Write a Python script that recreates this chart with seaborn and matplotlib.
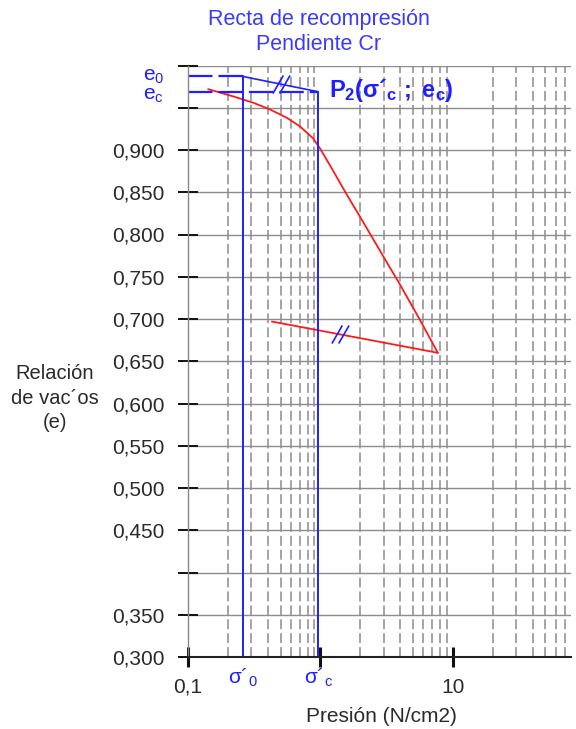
import numpy as np
import pandas as pd
import matplotlib
matplotlib.use("Agg")
import matplotlib.pyplot as plt
from matplotlib.path import Path
import seaborn as sns

# ---- data ----
p_load = [0.142, 0.219, 0.31, 0.416, 0.559, 0.70, 0.878, 0.991, 1.18, 1.53, 1.99, 2.45, 2.96, 3.98, 5.64, 7.7]
e_load = [0.972, 0.9635, 0.956, 0.948, 0.938, 0.928, 0.914, 0.902, 0.882, 0.851, 0.821, 0.797, 0.775, 0.741, 0.699, 0.660]
p_unload = [7.7, 0.43]
e_unload = [0.660, 0.697]

sigma0 = 0.26
sigmac = 0.96
e0 = 0.987
ec = 0.969
unload_mark_p = 1.4

y_ticks = [0.30, 0.35, 0.40, 0.45, 0.50, 0.55, 0.60, 0.65, 0.70, 0.75, 0.80, 0.85, 0.90, 0.95, 1.00]
y_labels = ["0,300", "0,350", "", "0,450", "0,500", "0,550", "0,600", "0,650", "0,700",
            "0,750", "0,800", "0,850", "0,900", "", ""]
x_ticks = [0.1, 1, 10]
x_labels = ["0,1", "", "10"]

title1 = "Recta de recompresión"
title2 = "Pendiente Cr"
ylabel = "Relación\nde vac´os\n(e)"
xlabel = "Presión (N/cm2)"

# ---- style ----
sns.set_theme(style="white")
plt.rcParams["font.family"] = ["Liberation Sans", "DejaVu Sans"]
plt.rcParams["mathtext.fontset"] = "custom"
plt.rcParams["mathtext.rm"] = "Liberation Sans"
plt.rcParams["mathtext.it"] = "Liberation Sans:italic"
plt.rcParams["mathtext.bf"] = "Liberation Sans:bold"
plt.rcParams["mathtext.sf"] = "Liberation Sans"

BLUE = "#1f1fff"
TBLUE = "#3a3aff"
RED = "#ff1a1a"
GRID = "#8c8c8c"
TXT = "#2a2a2a"
FS = 15

fig = plt.figure(figsize=(5.76, 7.29), dpi=100)
ax = fig.add_axes([188 / 576, 72 / 729, (571 - 188) / 576, (657 - 65.5) / 729])

ax.set_xscale("log")
ax.set_xlim(0.1, 78)
ax.set_ylim(0.30, 1.00)

# grid
ax.set_yticks(y_ticks)
ax.set_yticklabels(y_labels)
ax.set_xticks(x_ticks)
ax.set_xticklabels(x_labels)
ax.grid(which="major", axis="y", color=GRID, lw=1.0, ls="-")
ax.grid(which="minor", axis="x", color=GRID, lw=1.1, ls=(0, (6.5, 2.6)))
ax.grid(which="major", axis="x", visible=False)
ax.set_axisbelow(True)

# data lines
df_load = pd.DataFrame({"p": p_load, "e": e_load})
df_unload = pd.DataFrame({"p": p_unload, "e": e_unload})
sns.lineplot(data=df_load, x="p", y="e", sort=False, estimator=None, color=RED, lw=1.3, ax=ax)
sns.lineplot(data=df_unload, x="p", y="e", sort=False, estimator=None, color=RED, lw=1.3, ax=ax)

# construction lines
dash = (0, (11, 2.7))
ax.plot([0.1, sigma0], [e0, e0], color=BLUE, lw=1.6, ls=dash)
ax.plot([0.1, sigmac], [ec, ec], color=BLUE, lw=1.6, ls=dash)
ax.plot([sigma0, sigmac], [e0, ec], color=BLUE, lw=1.2)
ax.plot([sigma0, sigma0], [e0, 0.30], color=BLUE, lw=1.4)
ax.plot([sigmac, sigmac], [ec, 0.30], color=BLUE, lw=1.4)

# parallel marks (two thin slanted strokes)
mark = Path([(-0.95, -1.0), (0.2, 1.0), (-0.2, -1.0), (0.95, 1.0)],
            [Path.MOVETO, Path.LINETO, Path.MOVETO, Path.LINETO])
pm = np.sqrt(sigma0 * sigmac)
em = (e0 + ec) / 2
ax.plot([pm], [em], marker=mark, ms=13, color=BLUE, mec=BLUE, mfc="none", mew=1.2, ls="none")
t = (np.log10(unload_mark_p) - np.log10(p_unload[0])) / (np.log10(p_unload[1]) - np.log10(p_unload[0]))
eu = e_unload[0] + t * (e_unload[1] - e_unload[0])
ax.plot([unload_mark_p], [eu], marker=mark, ms=13, color=BLUE, mec=BLUE, mfc="none", mew=1.2, ls="none")

# P2 label
ax.annotate(r"$\mathbf{P_2(σ´_c\ ;\ e_c)}$", xy=(sigmac, ec), xytext=(8, 1),
            textcoords="offset points", ha="left", va="center", fontsize=17, color=BLUE)

# spines / ticks
for s in ["top", "right"]:
    ax.spines[s].set_visible(False)
ax.spines["left"].set_color("#888888")
ax.spines["left"].set_linewidth(1.0)
ax.spines["bottom"].set_color("#222222")
ax.spines["bottom"].set_linewidth(1.5)
ax.tick_params(axis="y", which="major", direction="inout", length=14, width=1.4,
               color="#111111", pad=10, labelsize=FS, labelcolor=TXT, left=True)
ax.tick_params(axis="x", which="major", direction="inout", length=14, width=2.2,
               color="#111111", pad=8, labelsize=FS, labelcolor=TXT, bottom=True)
ax.tick_params(which="minor", length=0)
ax.set_xlabel("")
ax.set_ylabel("")

# blue tick-like labels
ytr = ax.get_yaxis_transform()
xtr = ax.get_xaxis_transform()
ax.text(-24 / 383, e0, r"$\mathregular{e_0}$", transform=ytr, ha="right", va="center",
        fontsize=FS, color=BLUE, clip_on=False)
ax.text(-24 / 383, ec - 0.004, r"$\mathregular{e_c}$", transform=ytr, ha="right", va="center",
        fontsize=FS, color=BLUE, clip_on=False)
ax.text(sigma0, -21 / 591, r"$\mathregular{σ´_0}$", transform=xtr, ha="center", va="center",
        fontsize=FS, color=BLUE, clip_on=False)
ax.text(sigmac, -21 / 591, r"$\mathregular{σ´_c}$", transform=xtr, ha="center", va="center",
        fontsize=FS, color=BLUE, clip_on=False)

# titles / labels
fig.text(319 / 576, 1 - 20 / 729, title1, ha="center", va="center", fontsize=15.5, color=TBLUE)
fig.text(319 / 576, 1 - 45 / 729, title2, ha="center", va="center", fontsize=15.5, color=TBLUE)
fig.text(55 / 576, 1 - 398 / 729, ylabel, ha="center", va="center", fontsize=14.5, color=TXT,
         linespacing=1.35)
fig.text(381 / 576, 1 - 717 / 729, xlabel, ha="center", va="center", fontsize=FS, color=TXT)

fig.savefig("out.png", dpi=100, facecolor="white")
